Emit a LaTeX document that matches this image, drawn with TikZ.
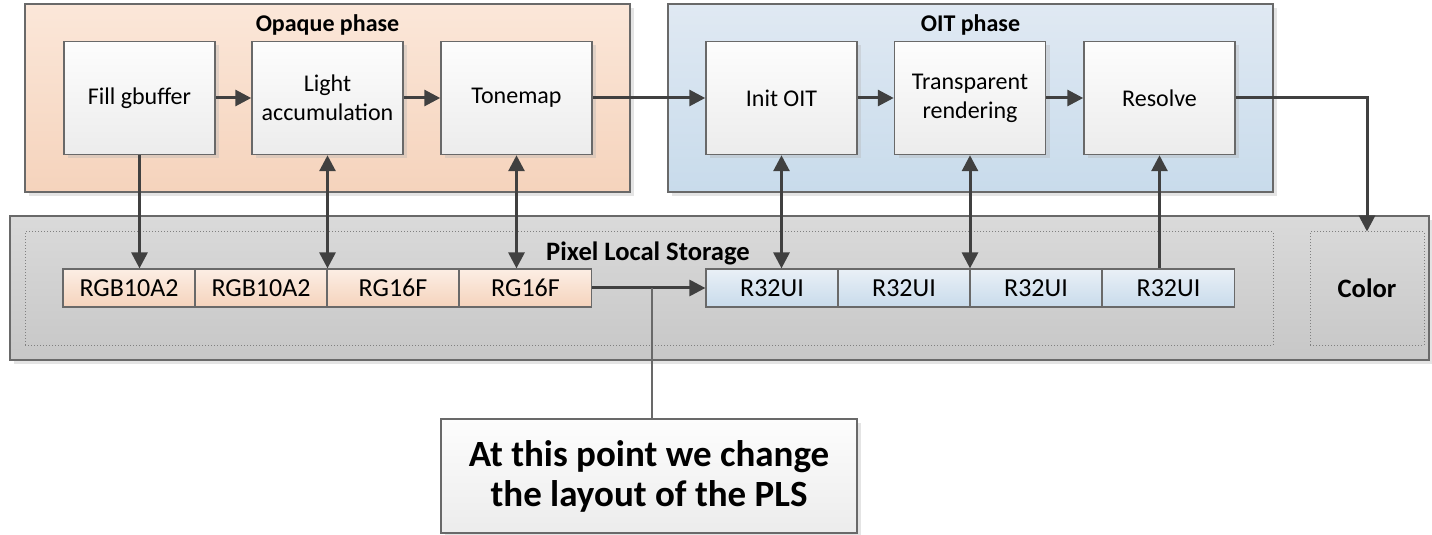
\documentclass[tikz,border=0pt]{standalone}
\usepackage{fontspec}
\setmainfont{Carlito}
\usetikzlibrary{arrows.meta,shadows}

\definecolor{opaquetop}{RGB}{251,231,217}
\definecolor{opaquebot}{RGB}{245,211,188}
\definecolor{oittop}{RGB}{224,233,243}
\definecolor{oitbot}{RGB}{200,219,235}
\definecolor{plstop}{RGB}{218,218,218}
\definecolor{plsbot}{RGB}{199,199,199}
\definecolor{passtop}{RGB}{253,253,253}
\definecolor{passbot}{RGB}{236,236,236}
\definecolor{framegray}{RGB}{105,105,105}
\definecolor{linkgray}{RGB}{64,64,64}

\begin{document}
\begin{tikzpicture}[x=0.5pt, y=-0.5pt,
      >={Triangle[length=8pt,width=8pt]},
      every node/.style={font=\fontsize{12}{14.5}\selectfont, align=center},
      shadowed/.style={drop shadow={shadow xshift=2pt, shadow yshift=-2pt, fill=black!30, opacity=0.35}},
      phase/.style={draw=framegray, line width=0.75pt, minimum width=302.5pt, minimum height=94pt, shadowed},
      title/.style={font=\fontsize{12}{14.5}\selectfont\bfseries},
      bigtitle/.style={font=\fontsize{13.3}{16}\selectfont\bfseries},
      pass/.style={draw=framegray, line width=0.75pt, top color=passtop, bottom color=passbot,
                   minimum width=75.5pt, minimum height=56.5pt, shadowed},
      slot/.style={draw=framegray, line width=0.6pt, minimum width=66pt, minimum height=19pt, inner sep=0pt,
                   font=\fontsize{13}{15}\selectfont},
      region/.style={draw=gray, densely dotted, line width=0.5pt},
      link/.style={draw=linkgray, line width=1.5pt}]

   \useasboundingbox (0,0) rectangle (1432,535);

   % phases
   \node[phase, top color=opaquetop, bottom color=opaquebot] (opaque) at (327.5,98) {};
   \node[phase, top color=oittop, bottom color=oitbot] (oit) at (970.5,98) {};
   \node[title] (opaquetitle) at (327.5,25) {Opaque phase};
   \node[title] (oittitle) at (970.5,25) {OIT phase};

   \node[pass] (fill)   at (139.5,98)  {Fill gbuffer};
   \node[pass] (light)  at (327.5,98)  {Light\\accumulation};
   \node[pass] (tone)   at (516.5,98)  {Tonemap};
   \node[pass] (init)   at (781.5,98)  {Init OIT};
   \node[pass] (transp) at (970,98)    {Transparent\\rendering};
   \node[pass] (resolve) at (1159.5,98) {Resolve};

   % storage
   \node[draw=framegray, line width=0.75pt, top color=plstop, bottom color=plsbot,
         minimum width=709.5pt, minimum height=72pt, shadowed] (pls) at (719.5,288) {};
   \node[region, minimum width=624pt, minimum height=56.5pt] (plsarea) at (649,288.5) {};
   \node[region, minimum width=57pt, minimum height=56.5pt] (colorarea) at (1367,288.5) {};
   \node[bigtitle] (plstitle) at (648,253) {Pixel Local Storage};
   \node[bigtitle] (color) at (1367,288) {Color};

   \node[slot, top color=opaquetop!70!white, bottom color=opaquebot] (c1) at (129,288)   {RGB10A2};
   \node[slot, top color=opaquetop!70!white, bottom color=opaquebot] (c2) at (261,288)   {RGB10A2};
   \node[slot, top color=opaquetop!70!white, bottom color=opaquebot] (c3) at (393,288)   {RG16F};
   \node[slot, top color=opaquetop!70!white, bottom color=opaquebot] (c4) at (525.5,288) {RG16F};
   \node[slot, top color=oittop!70!white, bottom color=oitbot] (b1) at (772,288)    {R32UI};
   \node[slot, top color=oittop!70!white, bottom color=oitbot] (b2) at (904,288)    {R32UI};
   \node[slot, top color=oittop!70!white, bottom color=oitbot] (b3) at (1036,288)   {R32UI};
   \node[slot, top color=oittop!70!white, bottom color=oitbot] (b4) at (1168.5,288) {R32UI};

   \node[draw=framegray, line width=0.75pt, top color=passtop, bottom color=passbot,
         minimum width=208pt, minimum height=57pt, inner sep=0pt, shadowed,
         font=\fontsize{18.5}{20}\selectfont\bfseries] (note) at (649,476)
         {At this point we change\\the layout of the PLS};

   % passes
   \draw[link, ->] (fill) to (light);
   \draw[link, ->] (light) to (tone);
   \draw[link, ->] (tone) to (init);
   \draw[link, ->] (init) to (transp);
   \draw[link, ->] (transp) to (resolve);
   \coordinate (out) at (1367,98);
   \draw[link, ->] (resolve.east) -- (out) -- (colorarea.north);

   % reads and writes
   \draw[link, ->]  (fill.south) -- (fill.south |- c1.north);
   \draw[link, <->] (light.south) -- (light.south |- c2.north);
   \draw[link, <->] (tone.south) -- (tone.south |- c4.north);
   \draw[link, <->] (init.south) -- (init.south |- b1.north);
   \draw[link, <->] (transp.south) -- (transp.south |- b2.north);
   \draw[link, ->]  (resolve.south |- b4.north) -- (resolve.south);

   % layout change
   \draw[link, ->] (c4) to (b1);
   \coordinate (turn) at (652,288);
   \draw[framegray, line width=0.6pt] (turn) -- (turn |- note.north);
 \end{tikzpicture}
\end{document}
